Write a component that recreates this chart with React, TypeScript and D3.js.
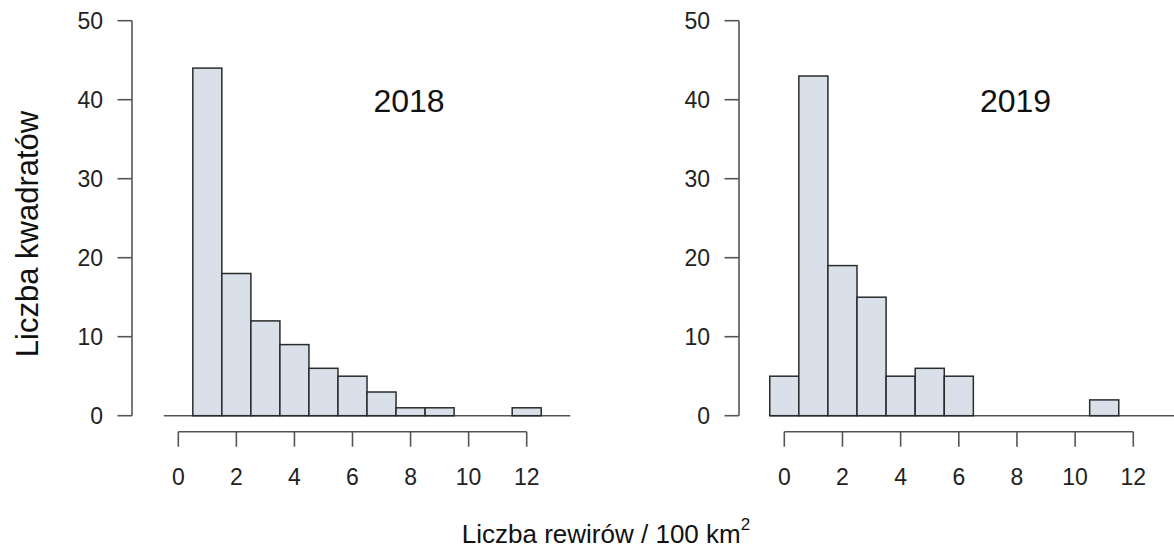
import React from "react";
import * as d3 from "d3";

// Histogram bins: counts of squares per density class (bin width 1)
const bins2018Start = 0.5;
const counts2018 = [44, 18, 12, 9, 6, 5, 3, 1, 1, 0, 0, 1];
const bins2019Start = -0.5;
const counts2019 = [5, 43, 19, 15, 5, 6, 5, 0, 0, 0, 0, 2];

const xTicks = [0, 2, 4, 6, 8, 10, 12];
const yTicks = [0, 10, 20, 30, 40, 50];
const panelYears = ["2018", "2019"];

const yAxisTitle = "Liczba kwadratów";
const xAxisTitle = "Liczba rewirów / 100 km";

const W = 1174;
const H = 550;
const FONT = "'Liberation Sans', Arial, sans-serif";
const BAR_FILL = "#d9e0e9";
const BAR_STROKE = "#2b2b2b";
const AXIS_COLOR = "#555";

const yScale = d3.scaleLinear().domain([0, 50]).range([415.7, 20.7]);

interface PanelProps {
  title: string;
  start: number;
  counts: number[];
  xRange: [number, number];
  yAxisX: number;
  titleX: number;
}

function Panel({ title, start, counts, xRange, yAxisX, titleX }: PanelProps) {
  const x = d3.scaleLinear().domain([0, 12]).range(xRange);
  const bars = counts.map((c, i) => ({ x0: start + i, x1: start + i + 1, c }));
  const axisY = 431.7;
  return (
    <g>
      {/* zero reference line */}
      <line
        x1={x(-0.5)}
        x2={x(13.5)}
        y1={yScale(0)}
        y2={yScale(0)}
        stroke={AXIS_COLOR}
        strokeWidth={1.6}
      />
      {bars.map((b, i) => (
        <rect
          key={i}
          x={x(b.x0)}
          y={yScale(b.c)}
          width={x(b.x1) - x(b.x0)}
          height={yScale(0) - yScale(b.c)}
          fill={BAR_FILL}
          stroke={BAR_STROKE}
          strokeWidth={1.5}
        />
      ))}
      {/* y axis */}
      <line x1={yAxisX} x2={yAxisX} y1={yScale(0)} y2={yScale(50)} stroke={AXIS_COLOR} strokeWidth={1.6} />
      {yTicks.map((t) => (
        <g key={t}>
          <line x1={yAxisX - 14.5} x2={yAxisX} y1={yScale(t)} y2={yScale(t)} stroke={AXIS_COLOR} strokeWidth={1.6} />
          <text
            x={yAxisX - 29}
            y={yScale(t) + 8}
            textAnchor="end"
            fontFamily={FONT}
            fontSize={23}
            fill="#222"
          >
            {t}
          </text>
        </g>
      ))}
      {/* x axis */}
      <line x1={x(0)} x2={x(12)} y1={axisY} y2={axisY} stroke={AXIS_COLOR} strokeWidth={1.6} />
      {xTicks.map((t) => (
        <g key={t}>
          <line x1={x(t)} x2={x(t)} y1={axisY} y2={axisY + 15} stroke={AXIS_COLOR} strokeWidth={1.6} />
          <text x={x(t)} y={485} textAnchor="middle" fontFamily={FONT} fontSize={23} fill="#222">
            {t}
          </text>
        </g>
      ))}
      <text x={titleX} y={112} textAnchor="middle" fontFamily={FONT} fontSize={32} fill="#111">
        {title}
      </text>
    </g>
  );
}

export default function App() {
  return (
    <svg
      width={W}
      height={H}
      viewBox={`0 0 ${W} ${H}`}
      style={{ position: "absolute", left: 0, top: 0, background: "#fff" }}
    >
      <Panel
        title={panelYears[0]}
        start={bins2018Start}
        counts={counts2018}
        xRange={[178.3, 526.7]}
        yAxisX={132}
        titleX={409}
      />
      <Panel
        title={panelYears[1]}
        start={bins2019Start}
        counts={counts2019}
        xRange={[784.3, 1133.3]}
        yAxisX={739}
        titleX={1015.5}
      />
      <text
        transform={`translate(38, 234) rotate(-90)`}
        textAnchor="middle"
        fontFamily={FONT}
        fontSize={31}
        fill="#111"
      >
        {yAxisTitle}
      </text>
      <text x={606} y={543} textAnchor="middle" fontFamily={FONT} fontSize={26} fill="#111">
        {xAxisTitle}
        <tspan dy={-13} fontSize={17}>
          2
        </tspan>
      </text>
    </svg>
  );
}
